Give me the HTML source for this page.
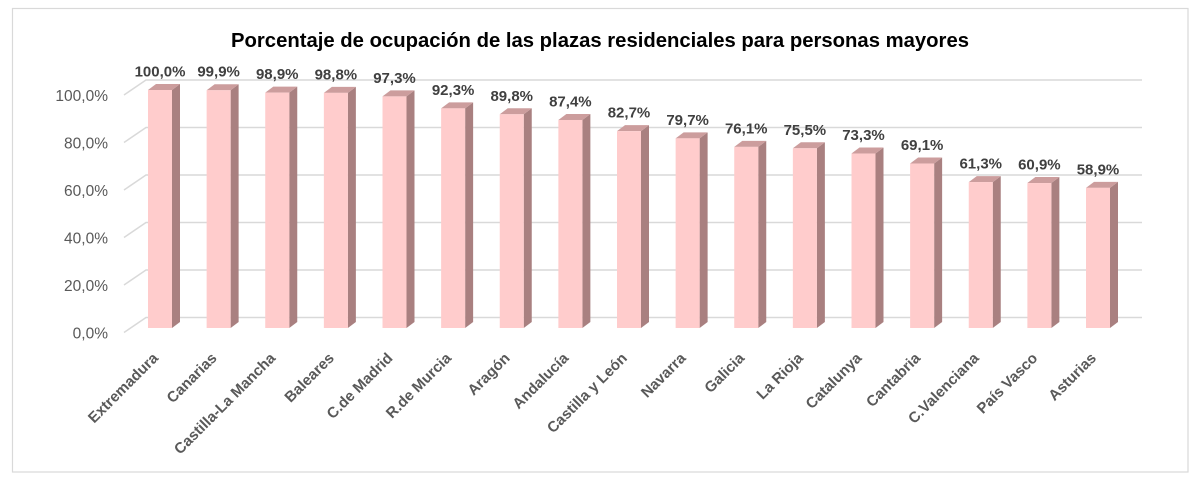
<!DOCTYPE html>
<html>
<head>
<meta charset="utf-8">
<style>
  html, body { margin: 0; padding: 0; background: #ffffff; }
  svg { display: block; }
  text { font-family: "Liberation Sans", Arial, sans-serif; }
</style>
</head>
<body>
<svg width="1200" height="480" viewBox="0 0 1200 480" xmlns="http://www.w3.org/2000/svg">
  <rect x="0" y="0" width="1200" height="480" fill="#ffffff"/>
  <rect x="12.5" y="8.5" width="1175.5" height="463.5" fill="#ffffff" stroke="#d9d9d9" stroke-width="1.2"/>

  <text x="600" y="47" text-anchor="middle" font-size="20" font-weight="bold" fill="#000000" textLength="738" lengthAdjust="spacingAndGlyphs">Porcentaje de ocupación de las plazas residenciales para personas mayores</text>

  <!-- gridlines -->
  <g stroke="#d9d9d9" stroke-width="1.5" fill="none">
    <polyline points="124,95 146,80 1142,80"/>
    <polyline points="124,142.5 146,127.5 1142,127.5"/>
    <polyline points="124,190 146,175 1142,175"/>
    <polyline points="124,237.5 146,222.5 1142,222.5"/>
    <polyline points="124,285 146,270 1142,270"/>
    <polyline points="124,332.5 146,317.5 1142,317.5"/>
  </g>

  <!-- y axis labels -->
  <g font-size="15.5" fill="#595959" text-anchor="end">
    <text x="108" y="101">100,0%</text>
    <text x="108" y="148.5">80,0%</text>
    <text x="108" y="196">60,0%</text>
    <text x="108" y="243.5">40,0%</text>
    <text x="108" y="291">20,0%</text>
    <text x="108" y="338.5">0,0%</text>
  </g>

  <g id="bars"></g>
  <g id="labels" font-size="15" font-weight="bold" fill="#404040" text-anchor="middle"></g>
  <g id="cats" font-size="15" font-weight="bold" fill="#595959" text-anchor="end"></g>
</svg>
<script>
(function(){
  var ns = "http://www.w3.org/2000/svg";
  var vals = [100.0,99.9,98.9,98.8,97.3,92.3,89.8,87.4,82.7,79.7,76.1,75.5,73.3,69.1,61.3,60.9,58.9];
  var labs = ["100,0%","99,9%","98,9%","98,8%","97,3%","92,3%","89,8%","87,4%","82,7%","79,7%","76,1%","75,5%","73,3%","69,1%","61,3%","60,9%","58,9%"];
  var cats = ["Extremadura","Canarias","Castilla-La Mancha","Baleares","C.de Madrid","R.de Murcia","Aragón","Andalucía","Castilla y León","Navarra","Galicia","La Rioja","Catalunya","Cantabria","C.Valenciana","País Vasco","Asturias"];
  var bars = document.getElementById("bars");
  var lg = document.getElementById("labels");
  var cg = document.getElementById("cats");
  var bottom = 328, scale = 2.38, w = 24, dx = 8, dy = -6;
  for (var i = 0; i < vals.length; i++) {
    var x = 148 + i * 58.625;
    var top = bottom - vals[i] * scale;
    var side = document.createElementNS(ns, "polygon");
    side.setAttribute("points", (x+w)+","+top+" "+(x+w+dx)+","+(top+dy)+" "+(x+w+dx)+","+(bottom+dy)+" "+(x+w)+","+bottom);
    side.setAttribute("fill", "#a98080");
    bars.appendChild(side);
    var tp = document.createElementNS(ns, "polygon");
    tp.setAttribute("points", x+","+top+" "+(x+dx)+","+(top+dy)+" "+(x+w+dx)+","+(top+dy)+" "+(x+w)+","+top);
    tp.setAttribute("fill", "#cc9d9d");
    bars.appendChild(tp);
    var fr = document.createElementNS(ns, "rect");
    fr.setAttribute("x", x); fr.setAttribute("y", top);
    fr.setAttribute("width", w); fr.setAttribute("height", bottom - top);
    fr.setAttribute("fill", "#ffcccc");
    bars.appendChild(fr);
    var t = document.createElementNS(ns, "text");
    t.setAttribute("x", x + w/2); t.setAttribute("y", top - 13.5);
    t.textContent = labs[i];
    lg.appendChild(t);
    var c = document.createElementNS(ns, "text");
    var ax = x + w/2 - 1, ay = 359;
    c.setAttribute("x", ax); c.setAttribute("y", ay);
    c.setAttribute("transform", "rotate(-45 "+ax+" "+ay+")");
    c.textContent = cats[i];
    cg.appendChild(c);
  }
})();
</script>
</body>
</html>
